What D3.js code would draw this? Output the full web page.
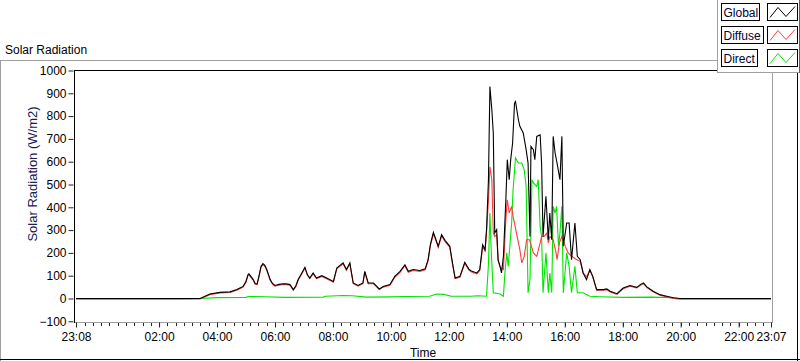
<!DOCTYPE html>
<html><head><meta charset="utf-8">
<script src="https://cdn.jsdelivr.net/npm/d3@7/dist/d3.min.js"></script>
<style>
html,body{margin:0;padding:0;background:#fff;}
svg{display:block;font-family:"Liberation Sans",Arial,sans-serif;}
</style></head><body>
<svg id="chart" width="800" height="361"></svg>
<script>
// ---------- DATA ----------
const globalTime = ["23:08","02:43","03:25","03:45","04:06","04:27","04:41","04:54","05:00","05:04","05:06","05:09","05:15","05:19","05:23","05:27","05:31","05:35","05:39","05:43","05:50","05:55","06:00","06:08","06:17","06:24","06:31","06:38","06:43","06:48","06:55","07:02","07:07","07:12","07:19","07:26","07:37","07:47","08:01","08:08","08:21","08:28","08:35","08:42","08:52","09:02","09:06","09:13","09:24","09:36","09:44","09:58","10:08","10:19","10:29","10:36","10:46","11:00","11:11","11:17","11:22","11:28","11:33","11:38","11:45","11:52","12:02","12:08","12:13","12:23","12:33","12:42","12:48","12:58","13:04","13:10","13:15","13:18","13:22","13:25","13:29","13:32","13:35","13:39","13:42","13:46","13:49","13:53","13:58","14:01","14:05","14:08","14:12","14:16","14:18","14:24","14:27","14:34","14:40","14:44","14:48","14:50","14:55","14:58","15:02","15:09","15:12","15:15","15:21","15:26","15:29","15:33","15:36","15:40","15:44","15:50","15:54","15:57","16:04","16:09","16:14","16:21","16:26","16:32","16:38","16:45","16:52","16:58","17:06","17:20","17:27","17:34","17:48","18:01","18:15","18:29","18:37","18:43","18:50","19:03","19:17","19:31","19:45","19:59","23:07"];
const globalValue = [0,0,0,20,27,29,39,53,75,104,108,100,83,66,64,100,140,153,145,127,83,66,57,62,65,64,61,39,55,83,110,137,105,90,112,90,100,90,75,134,156,127,156,68,57,68,119,68,68,42,53,61,97,119,148,119,127,123,130,170,240,290,260,229,280,255,229,150,90,97,159,127,119,112,127,236,214,302,521,930,828,726,287,302,170,141,112,185,433,609,521,609,682,857,864,784,755,726,653,594,272,667,653,609,711,718,594,272,448,258,375,258,711,638,594,521,711,229,331,331,170,331,185,170,112,83,127,97,39,39,42,32,21,46,57,49,62,68,51,32,17,10,3,0,0];

const diffuseTime = ["23:08","02:43","03:25","03:45","04:06","04:27","04:41","04:54","05:00","05:04","05:06","05:09","05:15","05:19","05:23","05:27","05:31","05:35","05:39","05:43","05:50","05:55","06:00","06:08","06:17","06:24","06:31","06:38","06:43","06:48","06:55","07:02","07:07","07:12","07:19","07:26","07:37","07:47","08:01","08:08","08:21","08:28","08:35","08:42","08:52","09:02","09:06","09:13","09:24","09:36","09:44","09:58","10:08","10:19","10:29","10:36","10:46","11:00","11:11","11:17","11:22","11:28","11:33","11:38","11:45","11:52","12:02","12:08","12:13","12:23","12:33","12:42","12:48","12:58","13:04","13:10","13:15","13:18","13:22","13:25","13:29","13:32","13:35","13:39","13:42","13:46","13:53","13:58","14:01","14:05","14:10","14:13","14:20","14:27","14:31","14:36","14:41","14:47","14:55","15:02","15:09","15:12","15:17","15:23","15:26","15:29","15:36","15:42","15:44","15:49","15:54","16:01","16:07","16:14","16:25","16:32","16:38","16:45","16:52","16:58","17:06","17:20","17:27","17:34","17:48","18:01","18:15","18:29","18:37","18:43","18:50","19:03","19:17","19:31","19:45","19:59","23:07"];
const diffuseValue = [-3,-3,-2,17,24,26,36,50,71,100,104,96,80,62,61,96,136,149,141,124,80,62,54,58,62,60,58,36,51,80,106,133,102,87,108,87,97,87,72,130,152,124,152,65,54,65,115,65,65,39,50,58,93,115,144,115,123,119,126,165,234,284,255,224,274,250,224,145,87,93,154,123,115,108,123,228,208,290,430,577,521,287,272,280,165,138,127,346,433,375,404,360,287,214,156,185,258,258,200,185,244,272,272,287,244,272,258,200,170,244,272,229,200,185,170,163,112,95,123,94,36,36,39,29,18,43,54,46,58,65,48,29,14,7,0,-3,-3];

const directTime = ["23:08","03:25","04:00","05:00","05:05","05:40","06:20","07:40","07:45","08:20","08:40","09:10","10:00","10:30","11:20","11:35","11:50","12:05","12:45","13:00","13:18","13:22","13:25","13:27","13:32","13:46","13:53","13:56","14:00","14:03","14:10","14:13","14:18","14:24","14:31","14:36","14:40","14:44","14:48","14:52","14:55","15:02","15:05","15:09","15:12","15:15","15:21","15:26","15:29","15:33","15:36","15:40","15:43","15:47","15:50","15:54","15:57","16:04","16:09","16:14","16:21","16:26","16:38","16:52","17:12","18:00","19:00","19:45","19:55","23:07"];
const directValue = [0,0,4,5,9,8,5,6,10,13,12,6,7,9,10,20,18,10,10,12,10,150,375,244,25,20,10,112,200,141,331,477,617,594,594,565,492,25,83,521,507,492,521,316,272,25,200,25,112,25,404,375,404,229,287,404,25,200,141,25,141,25,25,10,8,5,6,3,0,0];

const yTickValues = [-100,0,100,200,300,400,500,600,700,800,900,1000];
const xTickLabels = ["23:08","02:00","04:00","06:00","08:00","10:00","12:00","14:00","16:00","18:00","20:00","22:00","23:07"];
const legendLabels = ["Global","Diffuse","Direct"];
const seriesColors = ["#000000","#ff3b3b","#00e400"];

// ---------- HELPERS ----------
function parseT(s){
  const [h,m] = s.split(":").map(Number);
  const day = (h*60+m) >= 1388 ? 1 : 2;
  return new Date(2000,0,day,h,m);
}
const svg = d3.select("#chart");
const start = parseT("23:08"), end = parseT("23:07");
const x = d3.scaleTime().domain([start,end]).range([76,771]);
const y = d3.scaleLinear().domain([-100,1000]).range([321.3,70.5]);

// outer frame / panels
svg.append("line").attr("x1",0).attr("x2",717).attr("y1",60.5).attr("y2",60.5).attr("stroke","#a0a0a0");
svg.append("line").attr("x1",0.5).attr("x2",0.5).attr("y1",61).attr("y2",361).attr("stroke","#a0a0a0");
svg.append("line").attr("x1",0).attr("x2",800).attr("y1",359.5).attr("y2",359.5).attr("stroke","#000");
svg.append("line").attr("x1",797.5).attr("x2",797.5).attr("y1",72).attr("y2",361).attr("stroke","#000");

// title
svg.append("text").attr("x",5).attr("y",54).attr("font-size",12).attr("fill","#000").text("Solar Radiation");

// plot frame
svg.append("line").attr("x1",74).attr("x2",772).attr("y1",322.5).attr("y2",322.5).attr("stroke","#a0a0a0");
svg.append("line").attr("x1",772.5).attr("x2",772.5).attr("y1",70).attr("y2",323).attr("stroke","#a0a0a0");
svg.append("line").attr("x1",74).attr("x2",772).attr("y1",70.5).attr("y2",70.5).attr("stroke","#000");
svg.append("line").attr("x1",74.5).attr("x2",74.5).attr("y1",70).attr("y2",323).attr("stroke","#000");

// y axis
const yAxis = d3.axisLeft(y).tickValues(yTickValues).tickSize(5).tickPadding(2).tickFormat(d3.format("d"));
const gy = svg.append("g").attr("transform","translate(73.5,0)").call(yAxis);
gy.select(".domain").remove();
gy.selectAll(".tick line").attr("stroke","#222");
gy.selectAll(".tick text").attr("font-family","Liberation Sans, Arial, sans-serif").attr("font-size",12).attr("fill","#000");

// x axis: minor ticks
const minor = [];
const stepMs = 120/7*60000;
const anchor = parseT("02:00").getTime();
for (let t = anchor; t >= start.getTime()+60000; t -= stepMs) minor.push(new Date(t));
for (let t = anchor+stepMs; t <= end.getTime()-60000; t += stepMs) minor.push(new Date(t));
svg.append("g").selectAll("line").data(minor).join("line")
  .attr("x1",d=>Math.round(x(d))+0.5).attr("x2",d=>Math.round(x(d))+0.5)
  .attr("y1",323).attr("y2",326).attr("stroke","#222");
const xAxis = d3.axisBottom(x).tickValues(xTickLabels.map(parseT)).tickSize(5).tickPadding(5).tickFormat(d3.timeFormat("%H:%M"));
const gx = svg.append("g").attr("transform","translate(0,322.5)").call(xAxis);
gx.select(".domain").remove();
gx.selectAll(".tick line").attr("stroke","#222");
gx.selectAll(".tick text").attr("font-family","Liberation Sans, Arial, sans-serif").attr("font-size",12).attr("fill","#000");

// axis titles
svg.append("text").attr("transform","translate(37,174) rotate(-90)").attr("text-anchor","middle")
  .attr("font-size",13).attr("fill","#1a2050").text("Solar Radiation (W/m2)");
svg.append("text").attr("x",423).attr("y",357).attr("text-anchor","middle").attr("font-size",12).attr("fill","#000").text("Time");

// series
const plotG = svg.append("g");
const line = d3.line().x(d=>x(d.t)).y(d=>y(d.v));
function series(times, vals){ return times.map((t,i)=>({t:parseT(t), v:vals[i]})); }
const allSeries = [
  {data:series(directTime,directValue), color:seriesColors[2]},
  {data:series(diffuseTime,diffuseValue), color:seriesColors[1]},
  {data:series(globalTime,globalValue), color:seriesColors[0]}
];
plotG.selectAll("path").data(allSeries).join("path")
  .attr("d",d=>line(d.data)).attr("fill","none").attr("stroke",d=>d.color).attr("stroke-width",1.1);

// legend
const lg = svg.append("g");
lg.append("rect").attr("x",717.5).attr("y",-1).attr("width",82).attr("height",73.5).attr("fill","#fff").attr("stroke","#a0a0a0");
lg.append("line").attr("x1",799.5).attr("x2",799.5).attr("y1",0).attr("y2",73).attr("stroke","#606060");
const rowY = [3.5,26.5,49.5];
legendLabels.forEach((lab,i)=>{
  const yy = rowY[i];
  const tw = lab==="Global"?38: lab==="Diffuse"?42:36;
  lg.append("rect").attr("x",721.5).attr("y",yy).attr("width",tw).attr("height",17).attr("fill","#fff").attr("stroke","#000");
  lg.append("text").attr("x",723.5).attr("y",yy+13).attr("font-size",12).attr("fill","#000033").text(lab);
  lg.append("rect").attr("x",767.5).attr("y",yy).attr("width",30).attr("height",17).attr("fill","#fff").attr("stroke","#000");
  const pts = [[770,yy+14],[778,yy+4],[786,yy+13],[795,yy+3]];
  lg.append("path").attr("d",d3.line()(pts)).attr("fill","none").attr("stroke",seriesColors[i]).attr("stroke-width",1);
});
</script>
</body></html>
